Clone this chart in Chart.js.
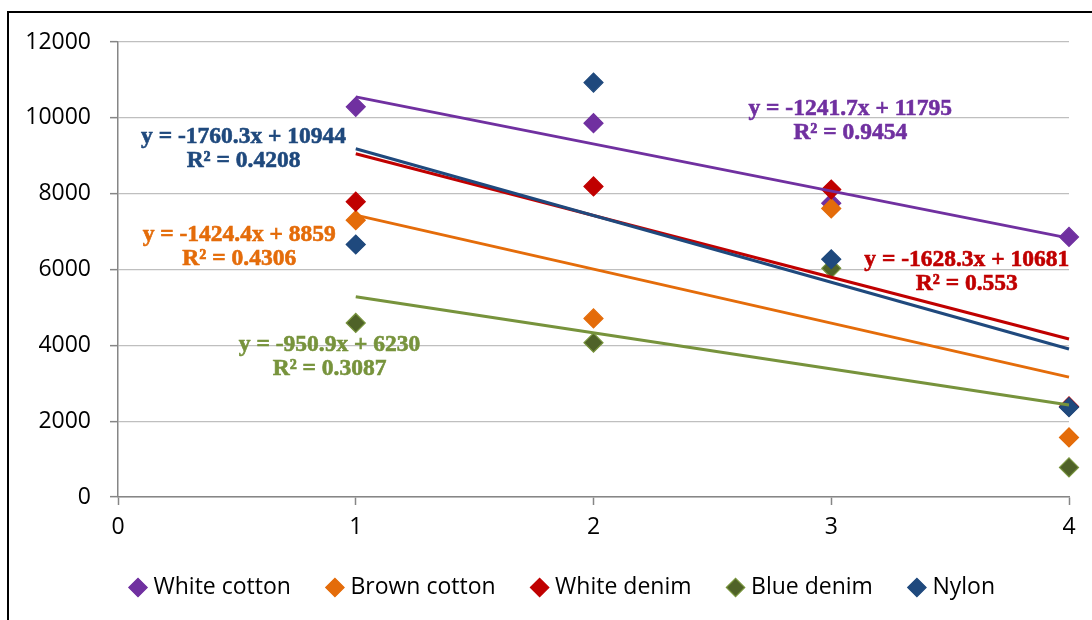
<!DOCTYPE html>
<html>
<head>
<meta charset="utf-8">
<script src="https://cdn.jsdelivr.net/npm/chart.js@4.4.1/dist/chart.umd.min.js"></script>
<style>
    html, body { margin: 0; padding: 0; background: #fff; overflow: hidden; }
    #wrap { position: relative; width: 1092px; height: 620px; }
    #frame { position: absolute; left: 7px; top: 11px; width: 1200px; height: 800px; border-left: 2px solid #000; border-top: 2px solid #000; }
    canvas { position: absolute; left: 0; top: 0; }
</style>
</head>
<body>
<div id="wrap">
    <div id="frame"></div>
    <canvas id="chart" width="1092" height="620"></canvas>
</div>
<script>
    // Series (x = 1..4)
    const seriesNames = ['White cotton', 'Brown cotton', 'White denim', 'Blue denim', 'Nylon'];
    const xValues = [1, 2, 3, 4];
    const whiteCotton = [10290, 9860, 7750, 6860];
    const brownCotton = [7300, 4710, 7610, 1570];
    const whiteDenim = [7790, 8190, 8110, 2390];
    const blueDenim = [4590, 4070, 6030, 780];
    const nylon = [6660, 10930, 6270, 2370];

    // Linear trendline equations shown on the chart
    const slopes = [-1241.7, -1424.4, -1628.3, -950.9, -1760.3];
    const intercepts = [11795, 8859, 10681, 6230, 10944];
    const rSquared = ['0.9454', '0.4306', '0.553', '0.3087', '0.4208'];

    // Axis ticks
    const xTicks = [0, 1, 2, 3, 4];
    const yTicks = [0, 2000, 4000, 6000, 8000, 10000, 12000];

    // Where each equation label sits (data units, centre of first line)
    const labelX = [3.08, 0.51, 3.57, 0.89, 0.528];
    const labelY = [10230, 6910, 6250, 4010, 9495];

    const markerFill = ['#7030A0', '#E46C0A', '#C00000', '#4F6228', '#1F497D'];
    const markerEdge = ['#7030A0', '#E46C0A', '#C00000', '#77933C', '#1F497D'];
    const trendColors = ['#7030A0', '#E46C0A', '#C00000', '#77933C', '#1F497D'];
    const seriesValues = [whiteCotton, brownCotton, whiteDenim, blueDenim, nylon];

    const pointSets = seriesValues.map((vals, i) => ({
        label: seriesNames[i],
        data: xValues.map((x, j) => ({ x: x, y: vals[j] })),
        pointStyle: 'rectRot',
        pointRadius: 9.5,
        pointHoverRadius: 9.5,
        backgroundColor: markerFill[i],
        borderColor: markerEdge[i],
        borderWidth: 1.2,
        showLine: false,
        clip: false,
        order: 20 - i
    }));

    // trendlines from x=1 to x=4, using the equations above
    const trendSets = slopes.map((m, i) => ({
        label: seriesNames[i] + ' trend',
        data: [xValues[0], xValues[xValues.length - 1]].map(x => ({ x: x, y: m * x + intercepts[i] })),
        showLine: true,
        borderColor: trendColors[i],
        borderWidth: 3,
        pointRadius: 0,
        pointHoverRadius: 0,
        fill: false,
        clip: false,
        order: 10 - i
    }));

    const eqLabels = {
        id: 'eqLabels',
        afterDatasetsDraw(chart) {
            const { ctx, scales } = chart;
            ctx.save();
            ctx.font = 'bold 23.5px "Liberation Serif"';
            ctx.textAlign = 'center';
            ctx.textBaseline = 'middle';
            ctx.lineWidth = 0.6;
            seriesNames.forEach((n, i) => {
                const px = scales.x.getPixelForValue(labelX[i]);
                const py = scales.y.getPixelForValue(labelY[i]);
                const line1 = `y = ${slopes[i]}x + ${intercepts[i]}`;
                const line2 = `R² = ${rSquared[i]}`;
                ctx.fillStyle = trendColors[i];
                ctx.strokeStyle = trendColors[i];
                ctx.fillText(line1, px, py);
                ctx.strokeText(line1, px, py);
                ctx.fillText(line2, px, py + 24);
                ctx.strokeText(line2, px, py + 24);
            });
            ctx.restore();
        }
    };

    // the legend in the original sits a bit right of the canvas centre
    const legendShift = {
        id: 'legendShift',
        afterLayout(chart) {
            if (!chart.legend) return;
            chart.legend.left += 30;
            chart.legend.right += 30;
        }
    };

    const tickFont = { family: 'Open Sans', size: 23 };

    new Chart(document.getElementById('chart'), {
        type: 'scatter',
        data: { datasets: [...pointSets, ...trendSets] },
        options: {
            responsive: false,
            animation: false,
            layout: { padding: { left: 0, right: 23, top: 42, bottom: 11 } },
            plugins: {
                tooltip: { enabled: false },
                legend: {
                    position: 'bottom',
                    labels: {
                        usePointStyle: true,
                        boxWidth: 8,
                        boxHeight: 13,
                        padding: 40,
                        color: '#000',
                        font: tickFont,
                        filter: item => item.datasetIndex < seriesNames.length,
                        sort: (a, b) => a.datasetIndex - b.datasetIndex
                    }
                }
            },
            scales: {
                x: {
                    type: 'linear',
                    min: xTicks[0],
                    max: xTicks[xTicks.length - 1],
                    afterBuildTicks: s => { s.ticks = xTicks.map(v => ({ value: v })); },
                    afterFit: s => { s.height = 39; },
                    ticks: { color: '#000', font: tickFont, padding: 9, callback: v => String(v) },
                    grid: { drawOnChartArea: false, tickLength: 8, tickColor: '#868686', tickWidth: 1.5 },
                    border: { color: '#868686', width: 1.5 }
                },
                y: {
                    min: yTicks[0],
                    max: yTicks[yTicks.length - 1],
                    afterBuildTicks: s => { s.ticks = yTicks.map(v => ({ value: v })); },
                    afterFit: s => { s.width = 118; },
                    ticks: { color: '#000', font: tickFont, padding: 19, callback: v => String(v) },
                    grid: { color: '#BFBFBF', lineWidth: 1.3, tickLength: 8, tickColor: '#868686', tickWidth: 1.5 },
                    border: { color: '#868686', width: 1.5 }
                }
            }
        },
        plugins: [eqLabels, legendShift]
    });
</script>
</body>
</html>
